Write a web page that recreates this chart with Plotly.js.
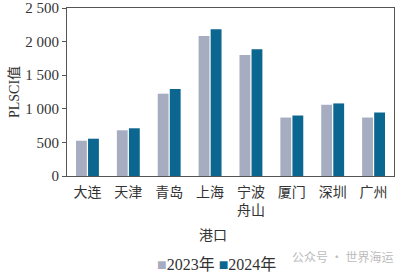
<!DOCTYPE html>
<html>
<head>
<meta charset="utf-8">
<script src="https://cdn.plot.ly/plotly-3.0.1.min.js"></script>
<style>html,body{margin:0;padding:0;background:#fff;}#chart{width:401px;height:276px;}</style>
</head>
<body>
<div id="chart"></div>
<script>
var ports = ['大连', '天津', '青岛', '上海', '宁波<br>舟山', '厦门', '深圳', '广州'];
var values2023 = [525, 680, 1225, 2085, 1800, 870, 1060, 870];
var values2024 = [555, 710, 1295, 2185, 1885, 900, 1080, 945];
var seriesNames = ['2023年', '2024年'];
var seriesColors = ['#A7ADC1', '#0B6690'];
var yTicks = [0, 500, 1000, 1500, 2000, 2500];

var serif = '"Liberation Serif", "Noto Sans CJK SC", serif';
var cjk = '"Noto Sans CJK SC", "Liberation Serif", sans-serif';

var traces = [
  {type: 'bar', name: seriesNames[0], x: ports, y: values2023,
   marker: {color: seriesColors[0]}, hoverinfo: 'x+y'},
  {type: 'bar', name: seriesNames[1], x: ports, y: values2024,
   marker: {color: seriesColors[1]}, hoverinfo: 'x+y'}
];

var legendText = seriesNames.map(function (n, i) {
  return '<span style="color:' + seriesColors[i] + '">■</span>' + n;
}).join(' ');

var layout = {
  width: 401, height: 276,
  margin: {l: 67, r: 7, t: 8, b: 100, autoexpand: false},
  paper_bgcolor: '#fff', plot_bgcolor: '#fff',
  separators: '. ',
  barmode: 'group', bargap: 0.41, bargroupgap: 0.1,
  showlegend: false,
  xaxis: {
    showline: true, linecolor: '#555', linewidth: 1, mirror: true,
    ticks: '', showgrid: false, ticklabelstandoff: 3,
    tickfont: {family: cjk, size: 14, color: '#333'},
    fixedrange: true
  },
  yaxis: {
    range: [0, 2500], tickvals: yTicks, separatethousands: true,
    showline: true, linecolor: '#555', linewidth: 1, mirror: true,
    ticks: 'outside', ticklen: 4, tickcolor: '#555',
    showgrid: false, zeroline: false,
    tickfont: {family: serif, size: 15, color: '#333'},
    title: {text: 'PLSCI值', font: {family: serif, size: 14, color: '#333'}, standoff: 2},
    fixedrange: true
  },
  annotations: [
    {text: '港口', xref: 'paper', yref: 'paper', x: 0.446, y: -0.345,
     xanchor: 'center', yanchor: 'middle', showarrow: false,
     font: {family: cjk, size: 14, color: '#333'}},
    {text: legendText, xref: 'paper', yref: 'paper', x: (155 - 67) / 327, y: -0.524,
     xanchor: 'left', yanchor: 'middle', showarrow: false,
     font: {family: serif, size: 16, color: '#333'}},
    {text: '公众号 · 世界海运', xref: 'paper', yref: 'paper', x: 0.682, y: -0.482,
     xanchor: 'left', yanchor: 'middle', showarrow: false,
     font: {family: cjk, size: 12, color: '#bcbcbc'}}
  ]
};

Plotly.newPlot('chart', traces, layout, {displayModeBar: false, staticPlot: true});
</script>
</body>
</html>
